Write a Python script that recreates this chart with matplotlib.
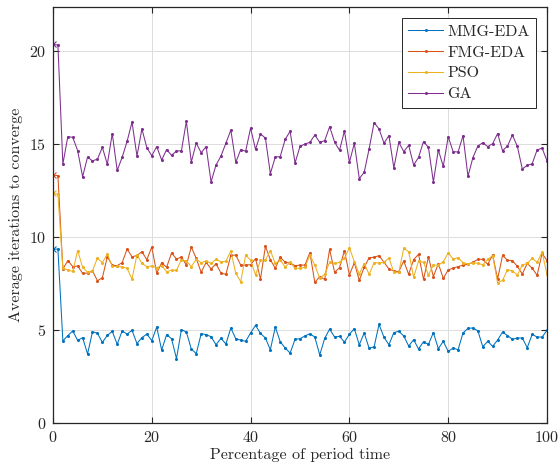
import numpy as np
import matplotlib
matplotlib.use("Agg")
import matplotlib.pyplot as plt

plt.rcParams["font.family"] = ["cmr10", "DejaVu Serif"]
plt.rcParams["axes.formatter.use_mathtext"] = True
plt.rcParams["mathtext.fontset"] = "cm"

# Percentage of period time (0..100)
period = np.arange(0, 101)

mmg_eda = [
    9.35, 9.35, 4.41, 4.70, 4.95, 4.44, 4.59, 3.71, 4.91, 4.82,
    4.34, 4.71, 4.93, 4.23, 4.95, 4.78, 4.98, 4.27, 4.59, 4.78,
    4.43, 5.16, 3.92, 4.75, 4.53, 3.46, 5.02, 4.89, 3.98, 3.73,
    4.80, 4.75, 4.64, 4.21, 4.55, 4.25, 5.11, 4.53, 4.46, 4.39,
    4.84, 5.25, 4.82, 4.57, 3.94, 5.16, 4.37, 4.03, 3.76, 4.50,
    4.53, 4.68, 4.80, 4.62, 3.66, 4.55, 5.05, 4.62, 4.66, 4.35,
    4.77, 5.07, 4.21, 4.84, 4.01, 4.10, 5.30, 4.61, 4.21, 4.86,
    4.93, 4.68, 4.14, 4.48, 3.98, 4.37, 4.23, 4.86, 4.00, 4.39,
    3.85, 4.03, 3.94, 4.84, 5.09, 5.11, 4.96, 4.10, 4.39, 4.12,
    4.46, 4.89, 4.70, 4.50, 4.57, 4.57, 4.05, 4.77, 4.62, 4.62,
    4.98,
]

fmg_eda = [
    13.33, 13.30, 8.28, 8.73, 8.41, 8.44, 8.05, 8.06, 8.17, 7.65,
    7.81, 8.94, 8.48, 8.46, 8.62, 9.35, 8.94, 9.00, 9.21, 8.78,
    9.46, 8.05, 8.62, 8.37, 9.14, 8.82, 8.92, 8.49, 9.46, 8.85,
    8.10, 8.64, 8.28, 8.57, 8.06, 7.99, 9.01, 9.03, 8.49, 8.49,
    8.51, 8.84, 7.74, 9.50, 8.78, 8.32, 8.92, 8.64, 8.60, 8.46,
    8.49, 8.49, 9.16, 7.56, 7.87, 7.72, 9.34, 8.10, 8.35, 9.27,
    7.96, 8.62, 7.67, 8.37, 8.89, 8.91, 9.00, 8.64, 8.28, 8.17,
    8.14, 8.71, 7.99, 8.78, 9.07, 7.72, 8.92, 7.87, 8.57, 7.78,
    8.23, 8.33, 8.41, 8.49, 8.53, 8.64, 8.80, 8.80, 8.53, 9.03,
    7.74, 9.01, 8.75, 8.73, 8.42, 8.01, 8.58, 8.32, 7.94, 9.12,
    8.73,
]

pso = [
    12.35, 12.30, 8.32, 8.23, 8.15, 9.27, 8.37, 8.10, 8.19, 8.87,
    8.62, 9.09, 8.42, 8.42, 8.39, 8.32, 7.74, 9.05, 8.58, 8.41,
    8.44, 8.35, 8.46, 8.14, 8.21, 8.21, 8.78, 8.71, 8.41, 8.80,
    8.62, 8.71, 8.58, 8.80, 8.66, 8.69, 9.25, 8.05, 7.60, 9.03,
    8.75, 7.96, 8.75, 8.76, 9.27, 8.58, 8.76, 8.39, 8.64, 8.32,
    8.32, 8.37, 9.03, 8.49, 7.78, 7.99, 8.64, 8.58, 8.64, 8.85,
    9.43, 8.67, 8.01, 8.57, 7.99, 8.62, 8.60, 8.64, 8.87, 8.10,
    8.10, 9.39, 9.21, 7.83, 8.71, 8.64, 7.96, 8.49, 8.49, 8.67,
    9.14, 8.82, 8.89, 8.62, 8.55, 8.62, 8.58, 8.51, 8.80, 9.00,
    7.54, 7.67, 8.24, 8.17, 7.96, 8.49, 8.58, 8.85, 8.64, 9.18,
    7.99,
]

ga = [
    20.36, 20.32, 13.92, 15.39, 15.36, 14.64, 13.24, 14.30, 14.09, 14.19,
    14.82, 13.91, 15.56, 13.58, 14.28, 15.14, 16.18, 14.35, 15.81, 14.80,
    14.37, 14.86, 14.14, 14.70, 14.39, 14.62, 14.64, 16.22, 14.03, 15.05,
    14.53, 14.86, 12.96, 13.87, 14.35, 15.04, 15.75, 14.01, 14.70, 14.61,
    15.86, 14.71, 15.54, 15.32, 13.41, 14.30, 14.32, 15.25, 15.68, 13.98,
    14.87, 15.00, 15.09, 15.48, 15.09, 15.18, 15.93, 15.11, 14.66, 15.70,
    14.01, 15.04, 13.14, 13.48, 14.75, 16.15, 15.81, 15.05, 15.45, 13.71,
    15.09, 14.59, 14.93, 13.87, 14.28, 15.13, 14.82, 12.96, 14.68, 13.80,
    15.39, 14.59, 14.57, 15.45, 13.26, 14.27, 14.89, 15.07, 14.86, 15.02,
    15.56, 14.64, 14.89, 15.48, 14.87, 13.66, 13.85, 13.94, 14.68, 14.78,
    14.10,
]

series_names = ["MMG-EDA", "FMG-EDA", "PSO", "GA"]
series_values = [mmg_eda, fmg_eda, pso, ga]
series_colors = ["#0072BD", "#D95319", "#EDB120", "#7E2F8E"]

x_ticks = [0, 20, 40, 60, 80, 100]
y_ticks = [0, 5, 10, 15, 20]

fig = plt.figure(figsize=(5.6, 4.73), dpi=100)
ax = fig.add_axes([0.0946, 0.1057, 0.8822, 0.8789])

for name, vals, col in zip(series_names, series_values, series_colors):
    ax.plot(period, vals, "-", marker=".", color=col, lw=0.75,
            markersize=2.4, label=name)
    # starting value highlighted with a cross
    ax.plot(period[:1], vals[:1], linestyle="none", marker="x",
            color=col, markersize=5, mew=0.8)

ax.set_xlim(0, 100)
ax.set_ylim(0, 22.35)
ax.set_xticks(x_ticks)
ax.set_yticks(y_ticks)

axis_color = "#262626"
ax.grid(True, color="#dcdcdc", lw=0.7)
ax.set_axisbelow(True)
for sp in ax.spines.values():
    sp.set_color(axis_color)
    sp.set_linewidth(0.9)
ax.tick_params(direction="in", length=4, width=0.8, top=True, right=True,
               colors=axis_color, labelsize=11.5, pad=5)

ax.set_xlabel("Percentage of period time", fontsize=11.5, color=axis_color,
              labelpad=2)
ax.set_ylabel("Average iterations to converge", fontsize=11.5,
              color=axis_color, labelpad=4)

leg = ax.legend(loc="upper right", fontsize=11.5, frameon=True, fancybox=False,
                edgecolor="#262626", framealpha=1, borderpad=0.4,
                handlelength=2.2, handletextpad=0.25, labelspacing=0.42,
                borderaxespad=0, bbox_to_anchor=(0.978, 0.974))
leg.get_frame().set_linewidth(0.7)
for t in leg.get_texts():
    t.set_color(axis_color)

fig.savefig("out.png", dpi=100)
